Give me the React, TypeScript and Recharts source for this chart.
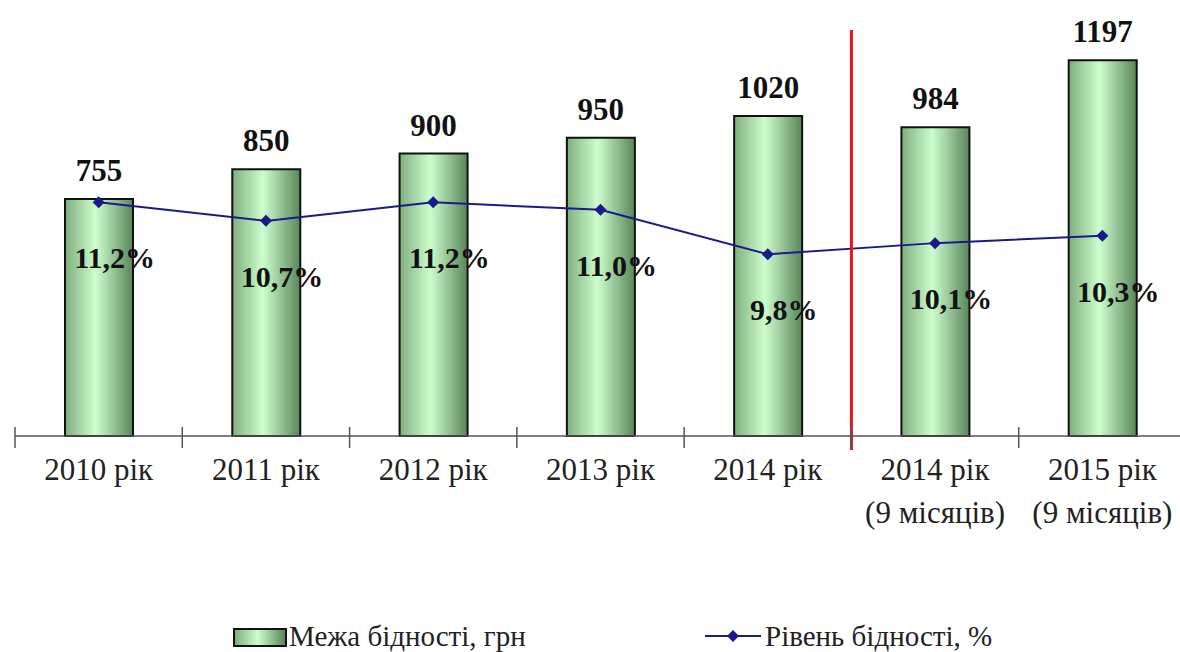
import React from 'react';
import {
  ComposedChart, Bar, Line, XAxis, YAxis, LabelList, ReferenceLine
} from 'recharts';

const categories = [
  '2010 рік', '2011 рік', '2012 рік', '2013 рік', '2014 рік',
  '2014 рік\n(9 місяців)', '2015 рік\n(9 місяців)',
];
const povertyLine = [755, 850, 900, 950, 1020, 984, 1197];
const povertyRate = [11.2, 10.7, 11.2, 11.0, 9.8, 10.1, 10.3];

const SERIF = '"Liberation Serif", "DejaVu Serif", "Times New Roman", serif';
const W = 1180;
const H = 652;
const MARGIN = { top: 28, right: -6, left: 15, bottom: 116 };
const BAND = (W - MARGIN.left - MARGIN.right) / categories.length;
const LINE_COLOR = '#1a1a8a';

const data = categories.map((name, i) => ({
  name,
  value: povertyLine[i],
  rate: povertyRate[i],
}));

const fmtRate = (v: number) => `${v.toFixed(1).replace('.', ',')}%`;

const CategoryTick = (props: any) => {
  const { x, y, payload } = props;
  const lines = String(payload.value).split('\n');
  const bx = x - BAND / 2;
  return (
    <g>
      <line x1={bx} x2={bx} y1={y - 9} y2={y + 12} stroke="#555" strokeWidth={1.5} />
      {lines.map((l, i) => (
        <text key={i} x={x} y={y + 44 + i * 43} textAnchor="middle"
          style={{ fontFamily: SERIF, fontSize: 31 }} fill="#222">
          {l}
        </text>
      ))}
    </g>
  );
};

const Diamond = (props: any) => {
  const { cx, cy } = props;
  if (cx == null || cy == null) return null;
  const s = 6;
  return (
    <polygon
      points={`${cx},${cy - s} ${cx + s},${cy} ${cx},${cy + s} ${cx - s},${cy}`}
      fill={LINE_COLOR}
    />
  );
};

const RateLabel = (props: any) => {
  const { x, y, value } = props;
  return (
    <text x={x + 16} y={y + 66} textAnchor="middle"
      style={{ fontFamily: SERIF, fontSize: 30, fontWeight: 'bold' }} fill="#111">
      {fmtRate(value)}
    </text>
  );
};

// sits on the boundary between the 5th and 6th category
const Divider = (props: any) => {
  const { x1, y1, y2 } = props;
  const top = Math.min(y1, y2);
  const bottom = Math.max(y1, y2);
  const x = x1 - BAND / 2;
  return <line x1={x} x2={x} y1={top + 2} y2={bottom + 14} stroke="#e8141a" strokeWidth={3} />;
};

export default function App() {
  return (
    <div style={{ position: 'absolute', left: 0, top: 0, width: W, height: H, background: '#fff' }}>
      <ComposedChart width={W} height={H} data={data} margin={MARGIN}>
        <defs>
          <linearGradient id="barGrad" x1="0" y1="0" x2="1" y2="0">
            <stop offset="0%" stopColor="#7fae7f" />
            <stop offset="45%" stopColor="#cdfdcd" />
            <stop offset="100%" stopColor="#5a865a" />
          </linearGradient>
        </defs>
        <XAxis
          dataKey="name"
          interval={0}
          height={100}
          tickLine={false}
          tickSize={0}
          tickMargin={0}
          axisLine={{ stroke: '#555', strokeWidth: 1.5 }}
          tick={<CategoryTick />}
        />
        <YAxis yAxisId="left" domain={[0, 1300]} hide />
        <YAxis yAxisId="right" orientation="right" domain={[4.9, 15.9]} hide />
        <Bar
          yAxisId="left"
          dataKey="value"
          barSize={68}
          fill="url(#barGrad)"
          stroke="#111"
          strokeWidth={2}
          isAnimationActive={false}
        >
          <LabelList dataKey="value" position="top" offset={18}
            style={{ fontFamily: SERIF, fontSize: 31, fontWeight: 'bold' }} fill="#111" />
        </Bar>
        <Line
          yAxisId="right"
          dataKey="rate"
          stroke={LINE_COLOR}
          strokeWidth={2}
          dot={<Diamond />}
          activeDot={false}
          isAnimationActive={false}
        >
          <LabelList dataKey="rate" content={<RateLabel />} />
        </Line>
        <ReferenceLine yAxisId="left" x={categories[5]} shape={<Divider />} ifOverflow="visible" />
      </ComposedChart>

      <div style={{
        position: 'absolute', top: 619, left: 0, width: W, height: 34,
        fontFamily: SERIF, fontSize: 29, color: '#222',
      }}>
        <div style={{
          position: 'absolute', left: 233, top: 9, width: 50, height: 15,
          border: '2px solid #111',
          background: 'linear-gradient(to right, #7fae7f, #cdfdcd 45%, #5a865a)',
        }} />
        <span style={{ position: 'absolute', left: 289, top: 0, lineHeight: '34px' }}>
          Межа бідності, грн
        </span>
        <svg style={{ position: 'absolute', left: 703, top: 5 }} width={60} height={24}>
          <line x1={2} x2={58} y1={12} y2={12} stroke={LINE_COLOR} strokeWidth={2} />
          <polygon points="30,6 36,12 30,18 24,12" fill={LINE_COLOR} />
        </svg>
        <span style={{ position: 'absolute', left: 765, top: 0, lineHeight: '34px' }}>
          Рівень бідності, %
        </span>
      </div>
    </div>
  );
}
